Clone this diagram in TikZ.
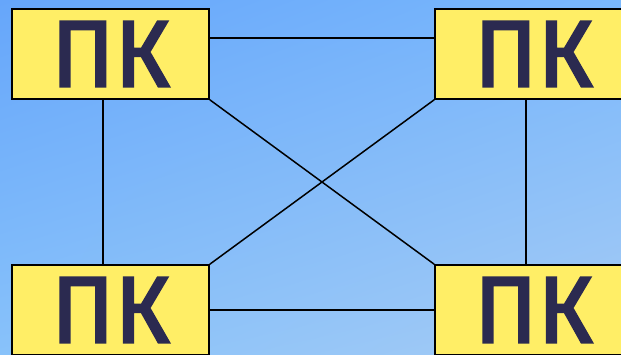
\documentclass[tikz,border=0pt]{standalone}
\usepackage{fontspec}
\newfontfamily\pkfont{Fira Sans}[FakeBold=2.5]
\usetikzlibrary{positioning,shadings}
\definecolor{skytop}{HTML}{66A6FA}
\definecolor{skytopright}{HTML}{7AB8FC}
\definecolor{skybottom}{HTML}{88C2FA}
\definecolor{skybottomright}{HTML}{A6CBF4}
\definecolor{boxyellow}{HTML}{FFEE66}
\definecolor{inknavy}{HTML}{2B2A50}

\tikzset{
  pcbox/.style={draw=black, line width=1.5pt, fill=boxyellow, minimum width=197pt, minimum height=90pt,
    inner sep=0pt, text=inknavy, font=\pkfont\fontsize{94}{94}\selectfont},
  link/.style={draw=black, line width=1.5pt}
}

\begin{document}
\begin{tikzpicture}[x=1pt,y=-1pt]
\clip (0,0) rectangle (621,354);
\shade[upper left=skytop, upper right=skytopright, lower left=skybottom, lower right=skybottomright] (0,0) rectangle (621,354);
\node[pcbox] (pcA) at (110.5,54) {ПК};
\node[pcbox] (pcB) at (533.5,54) {ПК};
\node[pcbox] (pcC) at (110.5,310) {ПК};
\node[pcbox] (pcD) at (533.5,310) {ПК};
\draw[link] ([yshift=16pt]pcA.east) -- ([yshift=16pt]pcB.west);
\draw[link] (pcC.east) -- (pcD.west);
\draw[link] ([xshift=-7.5pt]pcA.south) -- ([xshift=-7.5pt]pcC.north);
\draw[link] ([xshift=-7.5pt]pcB.south) -- ([xshift=-7.5pt]pcD.north);
\draw[link] (pcA.south east) -- (pcD.north west);
\draw[link] (pcB.south west) -- (pcC.north east);
\end{tikzpicture}
\end{document}
